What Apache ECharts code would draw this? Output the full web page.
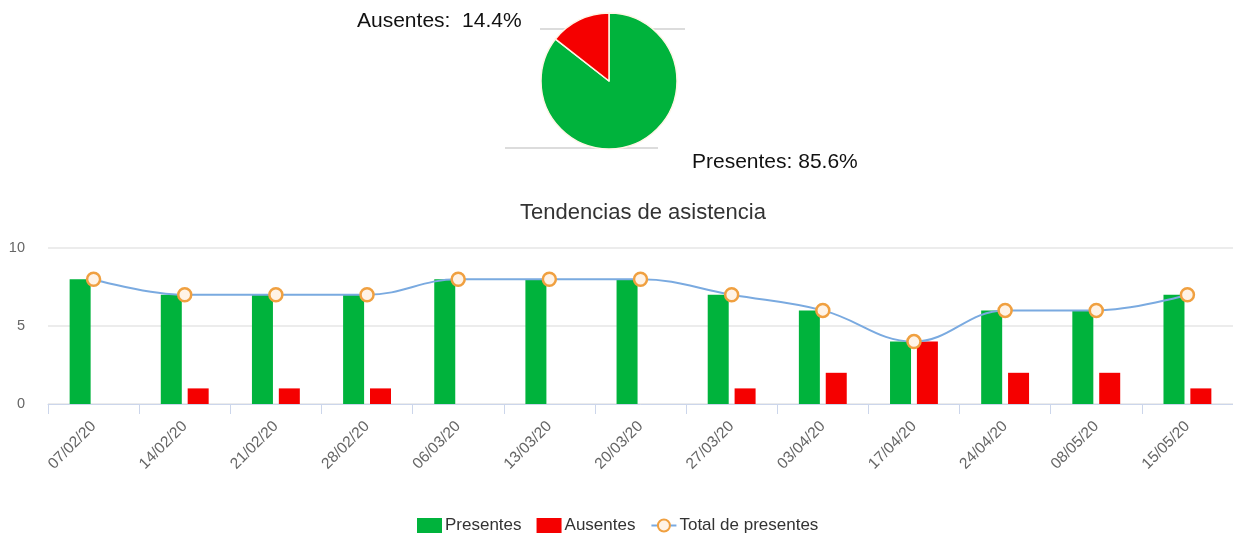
<!DOCTYPE html>
<html><head><meta charset="utf-8">
<script src="https://cdn.jsdelivr.net/npm/echarts@6/dist/echarts.min.js"></script>
<style>html,body{margin:0;padding:0;background:#fff}#c{width:1233px;height:541px}</style>
</head><body><div id="c"></div>
<script>
const categories = ['07/02/20','14/02/20','21/02/20','28/02/20','06/03/20','13/03/20','20/03/20','27/03/20','03/04/20','17/04/20','24/04/20','08/05/20','15/05/20'];
const presentes = [8,7,7,7,8,8,8,7,6,4,6,6,7];
const ausentes = [0,1,1,1,0,0,0,1,2,4,2,2,1];
const totalPresentes = [8,7,7,7,8,8,8,7,6,4,6,6,7];
const pieNames = ['Presentes','Ausentes'];

const sum = a => a.reduce((s,v)=>s+v,0);
const pieData = [
  {name: pieNames[0], value: sum(presentes)},
  {name: pieNames[1], value: sum(ausentes)}
];
const GREEN = '#00b33c', RED = '#f50000', BLUE = '#7aaae0', ORANGE = '#f0a040';
const font = 'Liberation Sans, Arial, sans-serif';

const chart = echarts.init(document.getElementById('c'));
chart.setOption({
  animation: false,
  textStyle: {fontFamily: font},
  title: {
    text: 'Tendencias de asistencia', left: 638, top: 197, textAlign: 'center',
    textStyle: {fontSize: 22, fontWeight: 'normal', color: '#333', fontFamily: font}
  },
  graphic: [
    {type: 'line', shape: {x1: 540, y1: 29, x2: 685, y2: 29}, style: {stroke: '#dcdcdc', lineWidth: 2}, z: -1},
    {type: 'line', shape: {x1: 505, y1: 148, x2: 658, y2: 148}, style: {stroke: '#dcdcdc', lineWidth: 2}, z: -1}
  ],
  legend: {
    bottom: 2, left: 412,
    itemWidth: 25, itemHeight: 15, itemGap: 15,
    textStyle: {fontSize: 17, color: '#333', fontFamily: font, padding: [0,0,0,-2]},
    data: [
      {name: 'Presentes', icon: 'rect'},
      {name: 'Ausentes', icon: 'rect'},
      {name: 'Total de presentes'}
    ]
  },
  grid: {left: 48, width: 1190, top: 248, height: 156, containLabel: false},
  xAxis: {
    type: 'category', data: categories,
    axisLine: {lineStyle: {color: '#ccd6eb'}},
    axisTick: {show: true, length: 10, lineStyle: {color: '#ccd6eb'}},
    axisLabel: {rotate: 45, color: '#666', fontSize: 15.5, margin: 20, fontFamily: font}
  },
  yAxis: {
    type: 'value', min: 0, max: 10, interval: 5,
    axisLine: {show: false}, axisTick: {show: false},
    splitLine: {lineStyle: {color: '#e6e6e6', width: 1.5}},
    axisLabel: {color: '#666', fontSize: 14.5, margin: 23, fontFamily: font}
  },
  series: [
    {
      name: 'Presentes', type: 'bar', data: presentes,
      barWidth: 21, barGap: '28%', itemStyle: {color: GREEN}
    },
    {
      name: 'Ausentes', type: 'bar', data: ausentes,
      barWidth: 21, itemStyle: {color: RED}
    },
    {
      name: 'Total de presentes', type: 'line', data: totalPresentes, smooth: 0.4,
      symbol: 'circle', symbolSize: 13,
      lineStyle: {color: BLUE, width: 2},
      itemStyle: {color: '#fff3e6', borderColor: ORANGE, borderWidth: 2.5},
      z: 5
    },
    {
      type: 'pie', center: [609, 81], radius: 68, startAngle: 90, clockwise: true,
      data: pieData,
      itemStyle: {borderColor: '#fff5e6', borderWidth: 1.5},
      color: [GREEN, RED],
      label: {
        show: true, color: '#111', fontSize: 21, fontFamily: font,
        formatter: p => p.dataIndex === 0 ? p.name + ': ' + p.percent.toFixed(1) + '%' : p.name + ':  ' + p.percent.toFixed(1) + '%'
      },
      labelLine: {show: false},
      labelLayout: p => p.dataIndex === 0
        ? {x: 692, y: 162, align: 'left', verticalAlign: 'middle'}
        : {x: 357, y: 21, align: 'left', verticalAlign: 'middle'},
      legendHoverLink: false
    }
  ]
});
</script></body></html>
